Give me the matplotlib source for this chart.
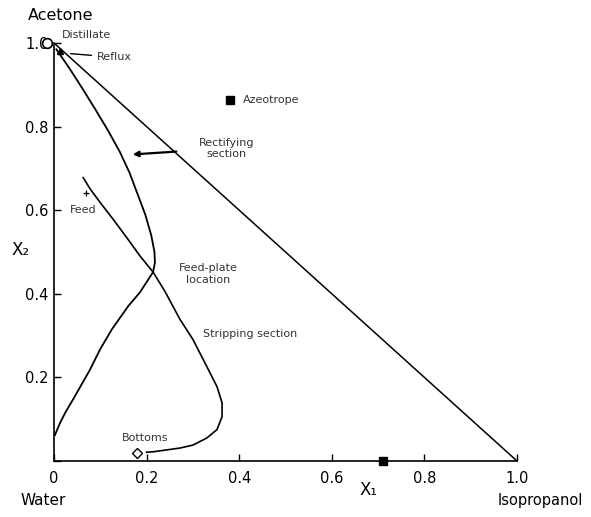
import matplotlib.pyplot as plt

# rectifying section profile (distillate -> y axis)
rect_x = [0.005, 0.033, 0.062, 0.09, 0.117, 0.142, 0.163, 0.18, 0.197, 0.21, 0.217, 0.218,
          0.214, 0.20, 0.186, 0.16, 0.125, 0.10, 0.078, 0.058, 0.041, 0.025, 0.013, 0.002]
rect_y = [0.985, 0.94, 0.89, 0.84, 0.79, 0.74, 0.69, 0.64, 0.59, 0.54, 0.5, 0.475,
          0.452, 0.428, 0.404, 0.37, 0.315, 0.268, 0.219, 0.18, 0.147, 0.117, 0.091, 0.062]

# stripping section profile (feed line -> bottoms)
strip_x = [0.063, 0.078, 0.10, 0.13, 0.16, 0.186, 0.214, 0.24, 0.272, 0.30, 0.33, 0.352,
           0.363, 0.363, 0.352, 0.33, 0.30, 0.272, 0.24, 0.214, 0.2]
strip_y = [0.678, 0.651, 0.618, 0.575, 0.53, 0.49, 0.452, 0.405, 0.339, 0.291, 0.226, 0.178,
           0.139, 0.106, 0.075, 0.055, 0.038, 0.031, 0.026, 0.022, 0.021]

distillate = (-0.015, 1.0)
reflux = (0.012, 0.982)
feed = (0.069, 0.64)
bottoms = (0.18, 0.02)
azeo_key = (0.38, 0.863)
azeo_binary = (0.71, 0.0)

ticks = [0, 0.2, 0.4, 0.6, 0.8, 1.0]
ytick_labels = ['', '0.2', '0.4', '0.6', '0.8', '1.0']
xtick_labels = ['0', '0.2', '0.4', '0.6', '0.8', '1.0']

fig = plt.figure(figsize=(5.91, 5.17), dpi=100)
ax = fig.add_axes([54 / 591, 1 - 461 / 517, 463 / 591, 418 / 517])

ax.plot([0, 1], [1, 0], color='black', lw=1.1)
ax.plot(rect_x, rect_y, color='black', lw=1.3)
ax.plot(strip_x, strip_y, color='black', lw=1.2)

ax.plot(*distillate, marker='o', ms=7, mfc='white', mec='black', mew=1.2, clip_on=False)
ax.plot(*reflux, marker='^', ms=5, color='black', clip_on=False)
ax.plot(*feed, marker='+', ms=5, color='black', mew=0.9)
ax.plot(*bottoms, marker='D', ms=5, mfc='white', mec='black', mew=1.0)
ax.plot(*azeo_key, marker='s', ms=6, color='black')
ax.plot(*azeo_binary, marker='s', ms=6, color='black', clip_on=False)

tc = '#333333'
fs = 8
ax.text(0.017, 1.019, 'Distillate', fontsize=fs, color=tc, va='center')
ax.annotate('Reflux', xy=(0.03, 0.975), xytext=(0.093, 0.966), fontsize=fs, color=tc,
            va='center', arrowprops=dict(arrowstyle='-', color='black', lw=1.0))
ax.text(0.408, 0.863, 'Azeotrope', fontsize=fs, color=tc, va='center')
ax.annotate('Rectifying\nsection', xy=(0.164, 0.733), xytext=(0.372, 0.748), fontsize=fs,
            color=tc, ha='center', va='center',
            arrowprops=dict(arrowstyle='-|>', color='black', lw=1.6, mutation_scale=8,
                            shrinkA=14))
ax.text(0.035, 0.601, 'Feed', fontsize=fs, color=tc, va='center')
ax.text(0.333, 0.447, 'Feed-plate\nlocation', fontsize=fs, color=tc, ha='center',
        va='center')
ax.text(0.322, 0.303, 'Stripping section', fontsize=fs, color=tc, va='center')
ax.text(0.197, 0.055, 'Bottoms', fontsize=fs, color=tc, ha='center', va='center')

ax.set_xlim(0, 1)
ax.set_ylim(0, 1)
ax.set_xticks(ticks)
ax.set_xticklabels(xtick_labels)
ax.set_yticks(ticks)
ax.set_yticklabels(ytick_labels)
ax.tick_params(direction='in', length=5, width=1, labelsize=10.5, pad=4)
ax.tick_params(axis='x', pad=7)
for s in ['top', 'right']:
    ax.spines[s].set_visible(False)
for s in ['left', 'bottom']:
    ax.spines[s].set_linewidth(1.2)

ax.text(-0.072, 0.505, 'X₂', fontsize=12, ha='center', va='center')
ax.text(0.68, -0.07, 'X₁', fontsize=12, ha='center', va='center')
ax.text(-0.056, 1.065, 'Acetone', fontsize=11.5, ha='left', va='center')
ax.text(-0.073, -0.094, 'Water', fontsize=11, ha='left', va='center')
ax.text(0.958, -0.094, 'Isopropanol', fontsize=10.5, ha='left', va='center')

fig.savefig('out.png', dpi=100)
